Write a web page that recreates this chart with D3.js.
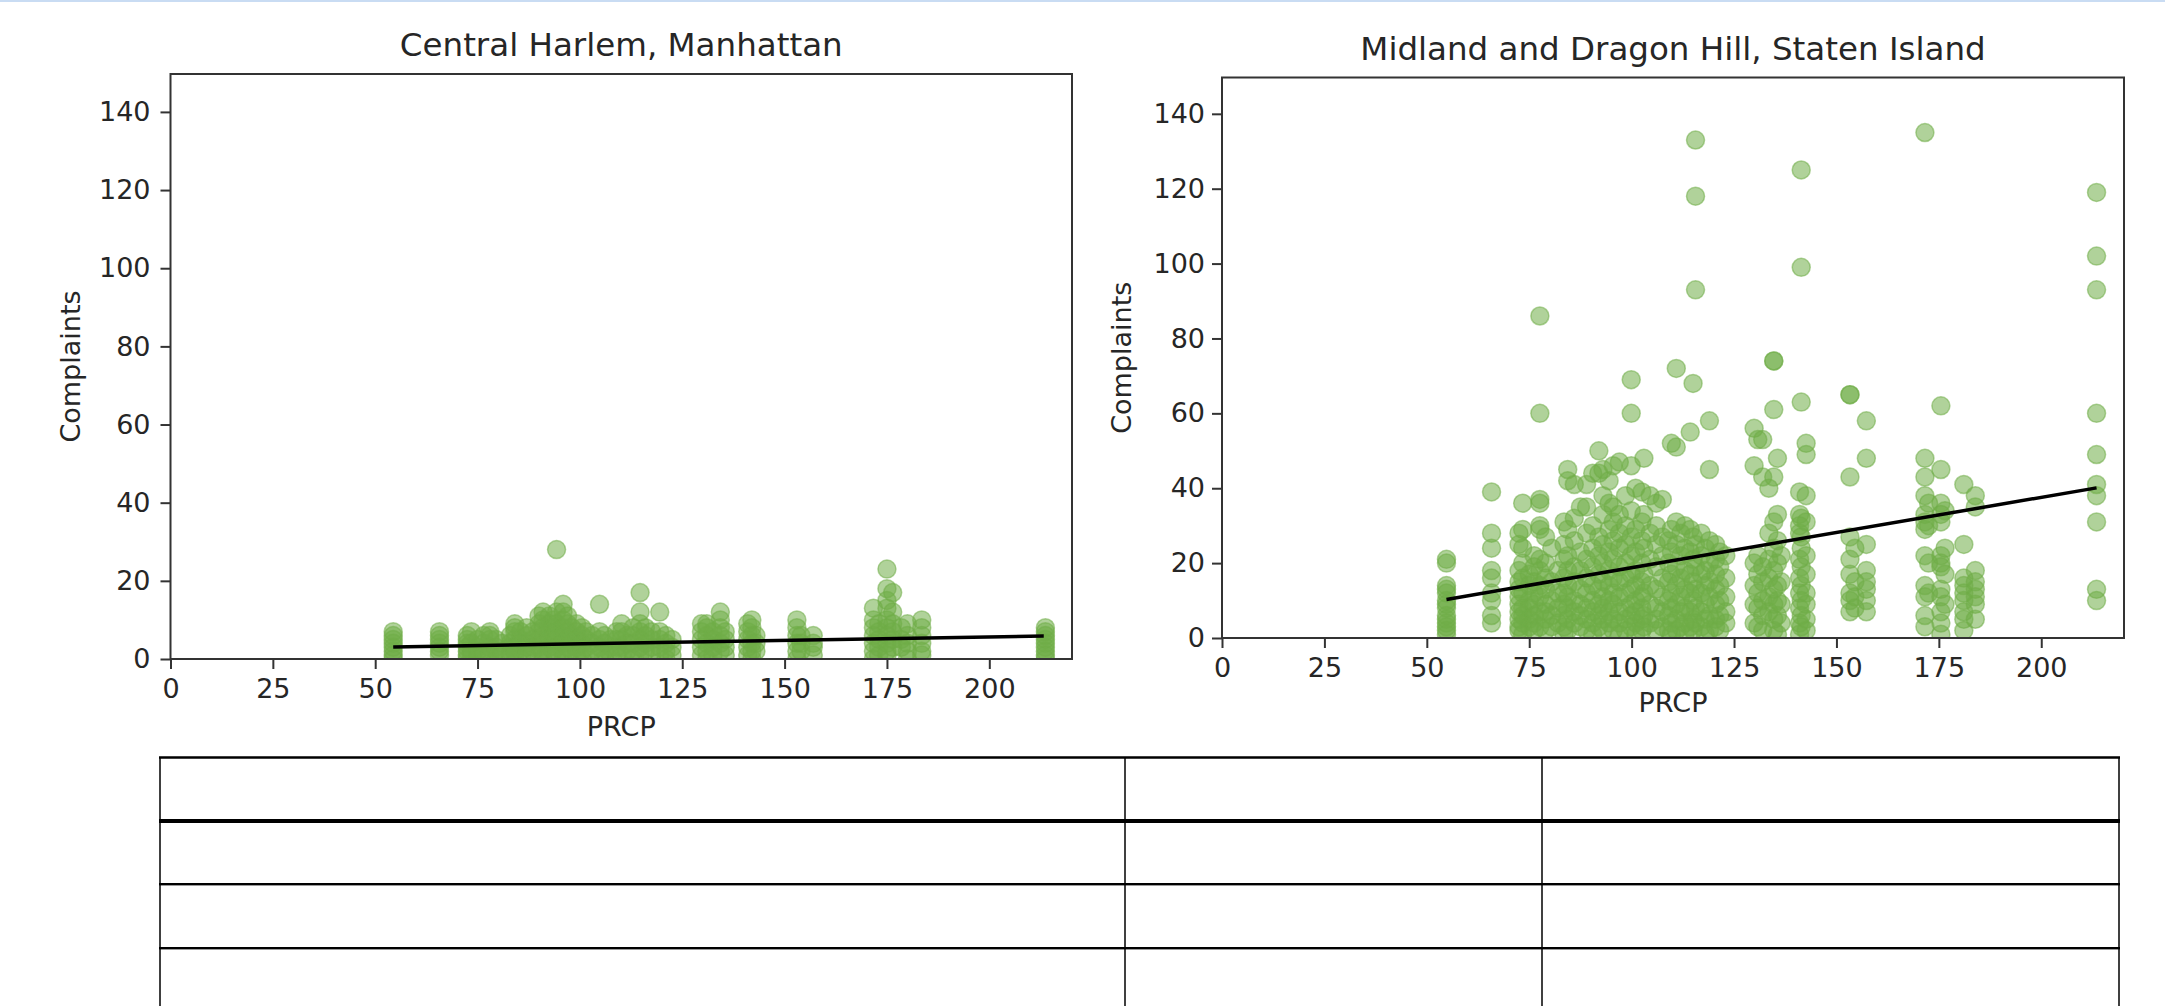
<!DOCTYPE html>
<html>
<head>
<meta charset="utf-8">
<script src="https://cdn.jsdelivr.net/npm/d3@7"></script>
<style>
  body { margin: 0; background: #fff; }
  text { font-family: "DejaVu Sans", sans-serif; fill: #262626; }
</style>
</head>
<body>
<svg id="chart"></svg>
<script>
// ---- data ----
const xTicks = [0, 25, 50, 75, 100, 125, 150, 175, 200];
const yTicks = [0, 20, 40, 60, 80, 100, 120, 140];

// Central Harlem, Manhattan: PRCP columns and complaint counts per column
const harlemPrcp = [54.4, 65.7, 72.5, 73.5, 75, 76.5, 78, 79.5, 81, 83, 84.1, 85.5, 87, 88.5, 90, 91, 92.5, 93.5,
  94.3, 95.9, 97, 98, 99.2, 100.5, 101.5, 103, 104.8, 106, 107.5, 109, 110.2, 111.5, 113, 114.7, 116, 117.5,
  119.5, 121, 122.5, 129.7, 131, 132.5, 134.3, 135.5, 141, 142, 143, 153, 154, 157, 171.7, 173, 175, 176.4,
  178.5, 180, 183.5, 213.7];
const harlemComplaints = [
  [7, 6, 5, 4, 3, 2, 1, 0], [7, 6, 5, 4, 3, 2, 1], [6, 5, 4, 3, 2, 1, 0], [7, 4, 2, 1], [5, 3, 2, 0],
  [6, 4, 2, 1], [7, 6, 5, 3, 1], [5, 3, 2, 0], [4, 2, 1], [6, 4, 3, 1], [9, 8, 7, 5, 3, 2, 1],
  [7, 5, 4, 2, 0], [8, 6, 4, 3, 1], [7, 5, 3, 2], [11, 9, 7, 5, 3, 1], [12, 10, 8, 6, 4, 2, 0],
  [11, 9, 7, 5, 3, 1], [10, 8, 6, 4, 2], [28, 12, 9, 7, 5, 3, 1], [14, 12, 10, 8, 6, 4, 2, 0],
  [11, 9, 7, 5, 3, 1], [8, 6, 4, 2], [9, 7, 5, 3, 1], [8, 6, 4, 2, 0], [7, 5, 3, 1], [6, 4, 2],
  [14, 7, 5, 3, 1], [6, 4, 2, 0], [5, 3, 1], [7, 5, 3, 1], [9, 7, 5, 3, 1], [6, 4, 2], [8, 6, 4, 2, 0],
  [17, 12, 9, 7, 5, 3, 1], [8, 6, 4, 2], [7, 5, 3, 1], [12, 7, 5, 3, 1], [6, 4, 2, 0], [5, 3, 1],
  [9, 7, 5, 3, 1], [9, 8, 6, 4, 2, 0], [7, 5, 3, 1], [12, 10, 8, 6, 4, 2], [7, 5, 3, 1],
  [9, 7, 5, 3, 1], [10, 8, 6, 4, 2, 0], [6, 4, 2], [10, 8, 6, 4, 2, 0], [6, 4, 2], [6, 4, 3, 1],
  [13, 10, 8, 6, 4, 2, 0], [9, 7, 5, 3, 1], [23, 18, 15, 13, 10, 8, 6, 4, 2, 1], [17, 12, 9, 7, 5, 3],
  [8, 5, 3], [9, 6, 4, 2, 0], [10, 8, 6, 4, 2, 1], [8, 7, 6, 5, 4, 3, 2, 1, 0]
];
const harlemFit = [[54.4, 3.1], [213.3, 5.9]];

// Midland and Dragon Hill, Staten Island
const midlandPrcp = [54.8, 65.8, 72.5, 73.4, 75, 76.2, 77.6, 79, 80.5, 82, 83.5, 84.4, 86, 87.5, 89, 90.5, 92,
  93, 94.5, 95.5, 97, 98.5, 99.9, 101, 102.5, 103, 104.5, 106, 107.5, 109, 109.7, 110.9, 112, 113, 114.3, 115,
  115.6, 117, 118, 119, 120.5, 121.5, 123, 129.9, 130.8, 132, 133.5, 134.7, 135.6, 136.5, 141, 141.4, 142.6,
  153.3, 154.5, 157.3, 171.6, 172.5, 175.5, 176.5, 181.1, 183.9, 213.5];
const midlandComplaints = [
  [21, 20, 14, 13, 12, 10, 9, 8, 6, 5, 4, 3, 2, 1], [39, 28, 24, 18, 16, 12, 10, 6, 4],
  [28, 25, 18, 15, 13, 11, 9, 7, 5, 3, 2], [36, 29, 24, 20, 16, 12, 8, 6, 4, 1], [17, 14, 10, 8, 5, 3],
  [22, 19, 15, 12, 9, 6, 4, 2], [86, 60, 37, 36, 30, 29, 21, 18, 14, 11, 7, 3], [27, 20, 16, 13, 9, 7, 5, 2],
  [24, 15, 10, 6, 3], [18, 12, 8, 4], [31, 25, 21, 16, 12, 9, 6, 3, 1], [45, 42, 29, 22, 18, 14, 11, 8, 5, 2],
  [41, 32, 26, 19, 15, 10, 7, 4], [35, 23, 18, 13, 9, 6, 3], [41, 35, 28, 21, 16, 12, 8, 5, 2],
  [44, 30, 24, 19, 14, 10, 7, 4, 1], [50, 44, 27, 22, 17, 13, 9, 6, 3], [45, 38, 33, 25, 20, 15, 11, 8, 5, 2],
  [42, 36, 29, 23, 18, 14, 10, 7, 4], [46, 35, 31, 26, 21, 16, 12, 9, 5, 2], [47, 33, 28, 24, 19, 15, 11, 7, 4, 1],
  [38, 30, 25, 20, 16, 12, 8, 5, 2], [69, 60, 46, 34, 27, 22, 17, 13, 9, 6, 3], [40, 29, 23, 18, 14, 10, 7, 4, 1],
  [39, 31, 26, 20, 15, 11, 8, 5, 2], [48, 33, 24, 17, 12, 6, 3], [38, 28, 21, 14, 9, 4],
  [36, 30, 25, 19, 13, 8, 5, 2], [37, 27, 22, 16, 11, 7, 3], [26, 20, 15, 10, 6, 2],
  [52, 29, 23, 17, 12, 8, 4, 1], [72, 51, 31, 25, 19, 14, 9, 5, 2], [28, 22, 16, 11, 7, 3],
  [30, 24, 18, 13, 8, 4, 1], [55, 29, 23, 17, 12, 7, 3], [68, 27, 21, 15, 10, 5, 2],
  [133, 118, 93, 25, 19, 13, 8, 4], [28, 22, 17, 12, 7, 3], [24, 18, 14, 9, 5, 1],
  [58, 45, 26, 20, 15, 11, 6, 2], [25, 21, 17, 13, 9, 5, 3], [23, 19, 14, 10, 6, 2], [22, 16, 11, 7, 4],
  [56, 46, 20, 14, 9, 4], [53, 22, 17, 12, 8, 3], [53, 43, 19, 15, 10, 6, 2], [40, 28, 21, 16, 11, 7],
  [74, 74, 61, 43, 31, 24, 18, 13, 9, 5, 2], [48, 33, 26, 20, 14, 10, 6, 1], [22, 15, 9, 4],
  [39, 33, 30, 28, 21, 16, 12, 8, 4, 1], [125, 99, 63, 32, 27, 24, 19, 14, 10, 6, 3],
  [52, 49, 38, 31, 22, 17, 12, 9, 5, 2], [65, 65, 43, 27, 21, 17, 12, 10, 7], [24, 15, 11, 8],
  [58, 48, 25, 18, 15, 13, 10, 7], [135, 48, 43, 38, 33, 31, 29, 22, 14, 11, 6, 3], [36, 30, 20, 12],
  [62, 45, 36, 33, 31, 22, 20, 19, 13, 11, 7, 4, 1], [34, 24, 17, 9], [41, 25, 16, 14, 12, 10, 7, 5, 2],
  [38, 35, 18, 15, 13, 11, 9, 5], [119, 102, 93, 60, 49, 41, 38, 31, 13, 10]
];
const midlandFit = [[54.8, 10.3], [213.5, 40.1]];

const titles = ["Central Harlem, Manhattan", "Midland and Dragon Hill, Staten Island"];

// ---- drawing ----
const W = 2165, H = 1006;
const svg = d3.select("#chart").attr("width", W).attr("height", H);
svg.append("rect").attr("width", W).attr("height", H).attr("fill", "#fff");

const dotColor = "#70ad47";

function flatten(prcp, counts) {
  const pts = [];
  prcp.forEach((p, i) => counts[i].forEach(c => pts.push({x: p, y: c})));
  return pts;
}

function drawPanel(cfg) {
  const x = d3.scaleLinear().domain([0, 220.2]).range([cfg.left, cfg.right]);
  const y = d3.scaleLinear().domain([0, 149.7]).range([cfg.bottom, cfg.top]);
  const g = svg.append("g");

  g.append("clipPath").attr("id", cfg.id + "-clip")
    .append("rect")
    .attr("x", cfg.left).attr("y", cfg.top)
    .attr("width", cfg.right - cfg.left).attr("height", cfg.bottom - cfg.top);

  g.append("g")
    .attr("clip-path", `url(#${cfg.id}-clip)`)
    .selectAll("circle")
    .data(cfg.points)
    .enter().append("circle")
    .attr("cx", d => x(d.x))
    .attr("cy", d => y(d.y))
    .attr("r", 9)
    .attr("fill", dotColor)
    .attr("fill-opacity", 0.55)
    .attr("stroke", dotColor)
    .attr("stroke-opacity", 0.55)
    .attr("stroke-width", 1.5);

  g.append("path")
    .datum(cfg.fit)
    .attr("fill", "none")
    .attr("stroke", "#000")
    .attr("stroke-width", 3.5)
    .attr("d", d3.line().x(d => x(d[0])).y(d => y(d[1])));

  const xAxis = g.append("g")
    .attr("transform", `translate(0,${cfg.bottom})`)
    .call(d3.axisBottom(x).tickValues(xTicks).tickSize(10).tickPadding(10).tickSizeOuter(0));
  const yAxis = g.append("g")
    .attr("transform", `translate(${cfg.left},0)`)
    .call(d3.axisLeft(y).tickValues(yTicks).tickSize(10).tickPadding(cfg.ypad).tickSizeOuter(0));
  [xAxis, yAxis].forEach(a => {
    a.select(".domain").remove();
    a.selectAll(".tick line").attr("stroke", "#333").attr("stroke-width", 2);
    a.selectAll(".tick text").attr("font-size", 27).attr("font-family", "DejaVu Sans").attr("fill", "#262626");
  });

  g.append("rect")
    .attr("x", cfg.left).attr("y", cfg.top)
    .attr("width", cfg.right - cfg.left).attr("height", cfg.bottom - cfg.top)
    .attr("fill", "none").attr("stroke", "#333").attr("stroke-width", 2);

  g.append("text")
    .attr("x", (cfg.left + cfg.right) / 2).attr("y", cfg.titleY)
    .attr("text-anchor", "middle").attr("font-size", 32.5)
    .text(cfg.title);

  g.append("text")
    .attr("x", (cfg.left + cfg.right) / 2).attr("y", cfg.xLabelY)
    .attr("text-anchor", "middle").attr("font-size", 27)
    .text("PRCP");

  g.append("text")
    .attr("transform", `translate(${cfg.yLabelX},${(cfg.top + cfg.bottom) / 2}) rotate(-90)`)
    .attr("text-anchor", "middle").attr("font-size", 27)
    .text("Complaints");
}

drawPanel({
  id: "harlem", left: 170.5, right: 1072, top: 74, bottom: 659, ypad: 10,
  points: flatten(harlemPrcp, harlemComplaints), fit: harlemFit,
  title: titles[0], titleY: 56, xLabelY: 736, yLabelX: 80
});
drawPanel({
  id: "midland", left: 1222, right: 2124, top: 77.5, bottom: 638, ypad: 7,
  points: flatten(midlandPrcp, midlandComplaints), fit: midlandFit,
  title: titles[1], titleY: 60, xLabelY: 712, yLabelX: 1131
});

// thin blue rule along the top edge
svg.append("line").attr("x1", 0).attr("x2", W).attr("y1", 1).attr("y2", 1)
  .attr("stroke", "#c9dcf3").attr("stroke-width", 2);

// empty table below the charts
const table = svg.append("g").attr("stroke", "#000");
table.append("line").attr("x1", 159).attr("x2", 2120).attr("y1", 757.5).attr("y2", 757.5).attr("stroke-width", 2.5);
table.append("line").attr("x1", 159).attr("x2", 2120).attr("y1", 821).attr("y2", 821).attr("stroke-width", 4);
[884, 948].forEach(yy => {
  table.append("line").attr("x1", 159).attr("x2", 2120).attr("y1", yy).attr("y2", yy).attr("stroke-width", 2);
  table.append("line").attr("x1", 159).attr("x2", 2120).attr("y1", yy + 1.5).attr("y2", yy + 1.5)
    .attr("stroke", "#999").attr("stroke-width", 1);
});
[160, 1125, 1542, 2119].forEach(xx => {
  table.append("line").attr("x1", xx).attr("x2", xx).attr("y1", 757).attr("y2", H).attr("stroke-width", 1.5);
});
</script>
</body>
</html>
